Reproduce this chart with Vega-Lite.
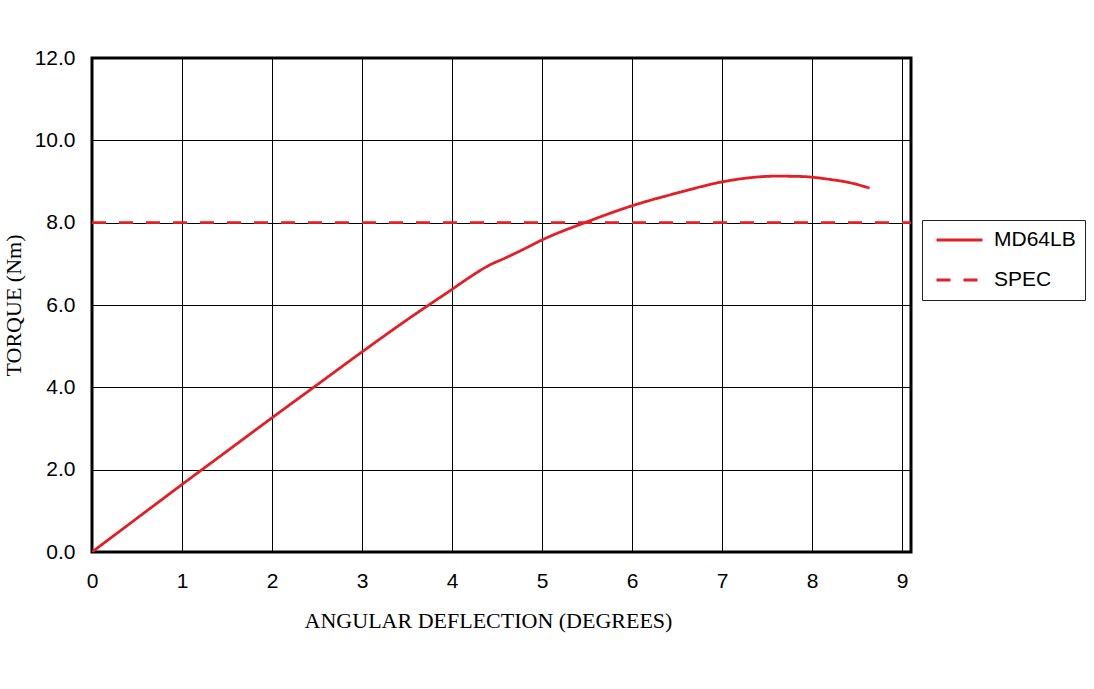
{
  "$schema": "https://vega.github.io/schema/vega-lite/v6.json",
  "width": 819,
  "height": 494,
  "autosize": {"type": "none"},
  "padding": {"left": 92, "top": 58, "right": 183, "bottom": 137},
  "background": "white",
  "config": {
    "view": {"stroke": "black", "strokeWidth": 3},
    "axis": {
      "gridColor": "black", "gridWidth": 1, "gridOpacity": 1,
      "domain": false, "ticks": false,
      "labelFont": "Liberation Sans", "labelFontSize": 21, "labelColor": "black",
      "titleFont": "Liberation Serif", "titleFontWeight": "normal", "titleFontSize": 22, "titleColor": "black"
    },
    "legend": {
      "labelFont": "Liberation Sans", "labelFontSize": 21, "labelColor": "black"
    }
  },
  "data": {
    "values": [
      {"deg": 0, "torque": 0, "series": "MD64LB"},
      {"deg": 0.5, "torque": 0.82, "series": "MD64LB"},
      {"deg": 1, "torque": 1.64, "series": "MD64LB"},
      {"deg": 1.5, "torque": 2.45, "series": "MD64LB"},
      {"deg": 2, "torque": 3.26, "series": "MD64LB"},
      {"deg": 2.5, "torque": 4.06, "series": "MD64LB"},
      {"deg": 3, "torque": 4.86, "series": "MD64LB"},
      {"deg": 3.5, "torque": 5.64, "series": "MD64LB"},
      {"deg": 4, "torque": 6.38, "series": "MD64LB"},
      {"deg": 4.2, "torque": 6.68, "series": "MD64LB"},
      {"deg": 4.4, "torque": 6.95, "series": "MD64LB"},
      {"deg": 4.6, "torque": 7.15, "series": "MD64LB"},
      {"deg": 4.8, "torque": 7.36, "series": "MD64LB"},
      {"deg": 5, "torque": 7.58, "series": "MD64LB"},
      {"deg": 5.5, "torque": 8.02, "series": "MD64LB"},
      {"deg": 6, "torque": 8.41, "series": "MD64LB"},
      {"deg": 6.5, "torque": 8.72, "series": "MD64LB"},
      {"deg": 7, "torque": 8.99, "series": "MD64LB"},
      {"deg": 7.3, "torque": 9.09, "series": "MD64LB"},
      {"deg": 7.6, "torque": 9.13, "series": "MD64LB"},
      {"deg": 7.9, "torque": 9.12, "series": "MD64LB"},
      {"deg": 8.2, "torque": 9.05, "series": "MD64LB"},
      {"deg": 8.4, "torque": 8.98, "series": "MD64LB"},
      {"deg": 8.64, "torque": 8.84, "series": "MD64LB"},
      {"deg": 0, "torque": 8, "series": "SPEC"},
      {"deg": 9.1, "torque": 8, "series": "SPEC"}
    ]
  },
  "mark": {"type": "line", "strokeWidth": 2.8, "interpolate": "monotone", "clip": true},
  "encoding": {
    "x": {
      "field": "deg", "type": "quantitative",
      "scale": {"domain": [0, 9.1], "nice": false, "zero": false},
      "axis": {"values": [0,1,2,3,4,5,6,7,8,9], "title": "ANGULAR DEFLECTION (DEGREES)", "labelFlush": false, "labelPadding": 18, "titlePadding": 19, "titleX": 396}
    },
    "y": {
      "field": "torque", "type": "quantitative",
      "scale": {"domain": [0, 12], "nice": false},
      "axis": {"values": [0,2,4,6,8,10,12], "format": ".1f", "title": "TORQUE (Nm)", "labelFlush": false, "labelPadding": 17, "titlePadding": 9}
    },
    "color": {
      "field": "series", "type": "nominal",
      "scale": {"domain": ["MD64LB", "SPEC"], "range": ["#e31e24", "#e31e24"]},
      "legend": {
        "title": null, "orient": "none", "legendX": 830, "legendY": 162,
        "symbolType": "stroke", "symbolSize": 2116, "symbolStrokeWidth": 2.8, "symbolOffset": 4,
        "strokeColor": "#222", "padding": 9, "rowPadding": 18, "clipHeight": 22, "labelOffset": 10,
        "fillColor": "white"
      }
    },
    "strokeDash": {
      "field": "series", "type": "nominal",
      "scale": {"domain": ["MD64LB", "SPEC"], "range": [[1, 0], [14, 13]]},
      "legend": {
        "title": null, "orient": "none", "legendX": 830, "legendY": 162,
        "symbolType": "stroke", "symbolSize": 2116, "symbolStrokeWidth": 2.8, "symbolOffset": 4,
        "strokeColor": "#222", "padding": 9, "rowPadding": 18, "clipHeight": 22, "labelOffset": 10,
        "fillColor": "white"
      }
    }
  }
}
